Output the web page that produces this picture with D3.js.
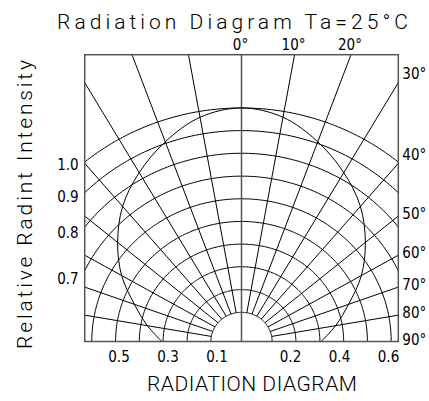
<!DOCTYPE html>
<html lang="en">
<head>
<meta charset="UTF-8">
<title>Radiation Diagram</title>
<script src="https://d3js.org/d3.v7.min.js"></script>
<style>
  body { margin: 0; background: #fff; }
  svg { display: block; }
  .grid { fill: none; stroke: #000; stroke-width: 1; }
  .frame { fill: none; stroke: #555; stroke-width: 1.5; }
  .lbl { font-family: "Liberation Sans Narrow", "DejaVu Sans Condensed", "Roboto Condensed", "Liberation Sans", sans-serif; font-size: 15px; fill: #000; }
  .big { font-family: Roboto, "DejaVu Sans", sans-serif; font-weight: 300; font-size: 21px; fill: #000; }
</style>
</head>
<body>
<div id="chart"></div>
<script>
// pattern (degrees, relative intensity)
const patternAngles = [-90, -80, -70, -60, -50, -40, -30, -20, -10, 0, 10, 20, 30, 40, 50, 60, 70, 80, 90];
const patternValues = [0.325, 0.39, 0.465, 0.565, 0.66, 0.755, 0.835, 0.91, 0.975, 1.0, 0.975, 0.91, 0.835, 0.755, 0.66, 0.565, 0.465, 0.39, 0.325];

// grid
const spokeAngles = [-90, -80, -70, -60, -50, -40, -30, -20, -10, 10, 20, 30, 40, 50, 60, 70, 80, 90];
const ringValues = [0.125, 0.222, 0.32, 0.417, 0.514, 0.611, 0.708, 0.806, 0.903, 1.0];

// labels
const leftTicks = [1.0, 0.9, 0.8, 0.7];
const bottomLeftTicks = [0.5, 0.3, 0.1];
const bottomRightTicks = [0.2, 0.4, 0.6];
const topAngleTicks = [0, 10, 20];
const rightAngleTicks = [30, 40, 50, 60, 70, 80, 90];

const width = 429, height = 401;
const xMax = 0.64, yMax = 1.228, innerR = 0.125;

const x = d3.scaleLinear().domain([-xMax, xMax]).range([84.7, 398.3]);
const y = d3.scaleLinear().domain([0, yMax]).range([341.5, 54.7]);
const rad = d => d * Math.PI / 180;
const pt = (a, r) => [x(r * Math.sin(rad(a))), y(r * Math.cos(rad(a)))];

const svg = d3.select("#chart").append("svg")
    .attr("width", width)
    .attr("height", height);

svg.append("clipPath").attr("id", "box")
  .append("rect")
    .attr("x", x(-xMax)).attr("y", y(yMax))
    .attr("width", x(xMax) - x(-xMax)).attr("height", y(0) - y(yMax));

const g = svg.append("g").attr("clip-path", "url(#box)");
const line = d3.line();

// rings
const arcSteps = d3.range(-90, 90.5, 1);
g.selectAll(".ring")
  .data(ringValues)
  .enter().append("path")
    .attr("class", "grid")
    .attr("d", r => line(arcSteps.map(a => pt(a, r))));

// spokes
g.selectAll(".spoke")
  .data(spokeAngles)
  .enter().append("path")
    .attr("class", "grid")
    .attr("d", a => line([pt(a, innerR), pt(a, 2)]));

// centre line
g.append("path")
  .attr("class", "frame")
  .attr("d", line([pt(0, 0), pt(0, 2)]));

// radiation pattern
g.append("path")
  .attr("class", "grid")
  .attr("d", d3.line().curve(d3.curveCatmullRom)(patternAngles.map((a, i) => pt(a, patternValues[i]))));

// frame
svg.append("rect")
  .attr("class", "frame")
  .attr("x", x(-xMax)).attr("y", y(yMax))
  .attr("width", x(xMax) - x(-xMax)).attr("height", y(0) - y(yMax));

// angle labels on top
svg.selectAll(".top")
  .data(topAngleTicks)
  .enter().append("text")
    .attr("class", "lbl")
    .attr("x", a => x(yMax * Math.tan(rad(a))) - 1)
    .attr("y", y(yMax) - 5)
    .attr("text-anchor", "middle")
    .text(a => a + "°");

// angle labels on the right (steep spokes sit a little higher)
svg.selectAll(".right")
  .data(rightAngleTicks)
  .enter().append("text")
    .attr("class", "lbl")
    .attr("x", x(xMax) + 4)
    .attr("y", a => y(xMax / Math.tan(rad(a))) - (a < 50 ? 9 : 2))
    .attr("dy", "0.35em")
    .text(a => a + "°");

// intensity labels on the left, where each ring meets the frame
svg.selectAll(".left")
  .data(leftTicks)
  .enter().append("text")
    .attr("class", "lbl")
    .attr("x", x(-xMax) - 6)
    .attr("y", v => y(Math.sqrt(v * v - xMax * xMax)) + 3)
    .attr("dy", "0.35em")
    .attr("text-anchor", "end")
    .text(v => v.toFixed(1));

// intensity labels under the frame
svg.selectAll(".bottom")
  .data(bottomLeftTicks.map(v => -v).concat(bottomRightTicks))
  .enter().append("text")
    .attr("class", "lbl")
    .attr("x", v => x(v))
    .attr("y", y(0) + 20)
    .attr("text-anchor", "middle")
    .text(v => Math.abs(v).toFixed(1));

// titles
svg.append("text")
  .attr("class", "big")
  .attr("x", 57).attr("y", 29)
  .attr("textLength", 351)
  .text("Radiation Diagram Ta=25°C");

svg.append("text")
  .attr("class", "big")
  .attr("x", 147).attr("y", 391)
  .attr("textLength", 210)
  .text("RADIATION DIAGRAM");

svg.append("text")
  .attr("class", "big")
  .attr("transform", "translate(32,349) rotate(-90)")
  .attr("textLength", 289)
  .text("Relative Radint Intensity");
</script>
</body>
</html>
